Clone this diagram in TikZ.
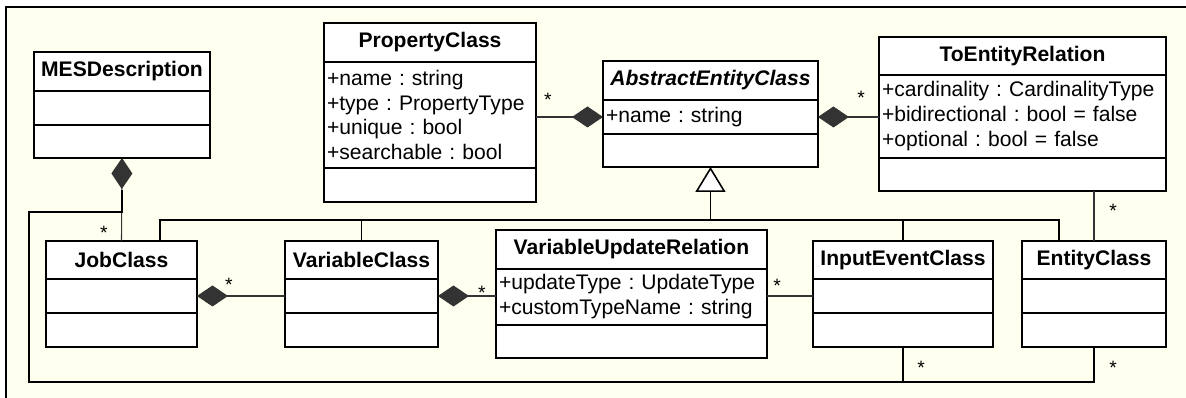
\documentclass[tikz,border=0pt]{standalone}
\usepackage{fontspec}
\setmainfont{Liberation Sans}
\usepackage{tikz}
\usetikzlibrary{arrows.meta, positioning}
\definecolor{creme}{RGB}{255,255,240}
\frenchspacing
\tikzstyle{titre} = [rectangle, draw = black, line width = 1.1pt, outer sep = 0pt, fill = white, minimum height = 0.78cm, inner sep = 0pt, font = \fontsize{12}{14.2}\selectfont\bfseries]
\tikzstyle{attributs} = [rectangle, draw = black, line width = 1.1pt, outer sep = 0pt, fill = white, minimum height = 0.68cm, inner xsep = 0.06cm, inner ysep = 1pt, align = left, font = \fontsize{12}{14.2}\selectfont]
\tikzstyle{compo} = [line width = 0.6pt, draw = black!80, arrows = {Diamond[length = 0.62cm, width = 0.42cm]-}]
\tikzstyle{lien} = [line width = 0.6pt, draw = black!80]
\tikzstyle{herite} = [line width = 0.9pt]
\tikzstyle{boucle} = [line width = 1.1pt]
\tikzstyle{mult} = [inner sep = 0pt, font = \fontsize{11}{11}\selectfont]

\begin{document}
\begin{tikzpicture}[x = 0.02cm, y = -0.02cm]
\useasboundingbox (0,0) rectangle (1186,398) ;
\fill[creme] (6,7) rectangle (1186,398) ;
\draw[line width = 1.1pt] (6,398) -- (6,7) -- (1186,7) ;

\node (mes) [titre, minimum width = 3.52cm, anchor = north west] at (34,52) {MESDescription} ;
\node (mes-a) [attributs, text width = 3.40cm, below = 0cm of mes] {} ;
\node (mes-o) [attributs, text width = 3.40cm, minimum height = 0.66cm, below = 0cm of mes-a] {} ;

\node (prop) [titre, minimum width = 4.24cm, anchor = north west] at (324,23) {PropertyClass} ;
\node (prop-a) [attributs, text width = 4.12cm, minimum height = 2.12cm, below = 0cm of prop] {+name : string\\+type : PropertyType\\+unique : bool\\+searchable : bool} ;
\node (prop-o) [attributs, text width = 4.12cm, below = 0cm of prop-a] {} ;

\node (aec) [titre, minimum width = 4.30cm, anchor = north west, font = \fontsize{12}{14.2}\selectfont\bfseries\itshape] at (603,61) {AbstractEntityClass} ;
\node (aec-a) [attributs, text width = 4.18cm, below = 0cm of aec] {+name : string} ;
\node (aec-o) [attributs, text width = 4.18cm, minimum height = 0.66cm, below = 0cm of aec-a] {} ;

\node (ter) [titre, minimum width = 5.74cm, minimum height = 0.76cm, anchor = north west] at (879,37) {ToEntityRelation} ;
\node (ter-a) [attributs, text width = 5.62cm, minimum height = 1.66cm, below = 0cm of ter] {+cardinality : CardinalityType\\+bidirectional : bool = false\\+optional : bool = false} ;
\node (ter-o) [attributs, text width = 5.62cm, minimum height = 0.66cm, below = 0cm of ter-a] {} ;

\node (job) [titre, minimum width = 3.02cm, minimum height = 0.76cm, anchor = north west] at (46,241) {JobClass} ;
\node (job-a) [attributs, text width = 2.90cm, below = 0cm of job] {} ;
\node (job-o) [attributs, text width = 2.90cm, below = 0cm of job-a] {} ;

\node (var) [titre, minimum width = 3.06cm, minimum height = 0.76cm, anchor = north west] at (285,241) {VariableClass} ;
\node (var-a) [attributs, text width = 2.94cm, below = 0cm of var] {} ;
\node (var-o) [attributs, text width = 2.94cm, below = 0cm of var-a] {} ;

\node (vur) [titre, minimum width = 5.42cm, anchor = north west] at (496,230) {VariableUpdateRelation} ;
\node (vur-a) [attributs, text width = 5.30cm, minimum height = 1.12cm, below = 0cm of vur] {+updateType : UpdateType\\+customTypeName : string} ;
\node (vur-o) [attributs, text width = 5.30cm, minimum height = 0.66cm, below = 0cm of vur-a] {} ;

\node (iev) [titre, minimum width = 3.60cm, minimum height = 0.76cm, anchor = north west] at (813,241) {InputEventClass} ;
\node (iev-a) [attributs, text width = 3.48cm, below = 0cm of iev] {} ;
\node (iev-o) [attributs, text width = 3.48cm, below = 0cm of iev-a] {} ;

\node (ent) [titre, minimum width = 2.88cm, minimum height = 0.76cm, anchor = north west] at (1022,241) {EntityClass} ;
\node (ent-a) [attributs, text width = 2.76cm, below = 0cm of ent] {} ;
\node (ent-o) [attributs, text width = 2.76cm, below = 0cm of ent-a] {} ;

\draw[compo] (mes-o.south) -- (job.north) ;
\draw[compo] (job-a.east) -- (var-a.west) ;
\draw[compo] (var-a.east) -- (var-a.east -| vur-a.west) ;
\draw[lien] (iev-a.west) -- (iev-a.west -| vur-a.east) ;
\draw[compo] (aec-a.west) -- (aec-a.west -| prop-a.east) ;
\draw[compo] (aec-a.east) -- (aec-a.east -| ter-a.west) ;
\draw[lien] (ter-o.south -| ent.north) -- (ent.north) ;

\coordinate (inh) at (aec-o.south |- 0,220) ;
\coordinate (inh-g) at (160,220) ;
\coordinate (inh-d) at (1059,220) ;
\draw[herite, arrows = -{Triangle[length = 0.5cm, width = 0.6cm, fill = white]}] (inh) -- (aec-o.south) ;
\draw[herite] (job.north -| inh-g) -- (inh-g) -- (inh-d) -- (ent.north -| inh-d) ;
\draw[herite] (var.north) -- (var.north |- inh) ;
\draw[herite] (iev.north) -- (iev.north |- inh) ;

\coordinate (joint) at (mes-o.south |- 0,212) ;
\coordinate (coin) at (29,382) ;
\draw[boucle] (mes-o.south) ++(0,32) -- (joint) -| (coin) -| (ent-o.south) ;
\draw[boucle] (iev-o.south) -- (iev-o.south |- coin) ;

\node (m1) [mult] at (104,233) {*} ;
\node (m2) [mult] at (229,285) {*} ;
\node (m3) [mult] at (482,293) {*} ;
\node (m4) [mult] at (777,286) {*} ;
\node (m5) [mult] at (548,100) {*} ;
\node (m6) [mult] at (861,98) {*} ;
\node (m7) [mult] at (1113,211) {*} ;
\node (m8) [mult] at (921,368) {*} ;
\node (m9) [mult] at (1113,368) {*} ;
\end{tikzpicture}
\end{document}
